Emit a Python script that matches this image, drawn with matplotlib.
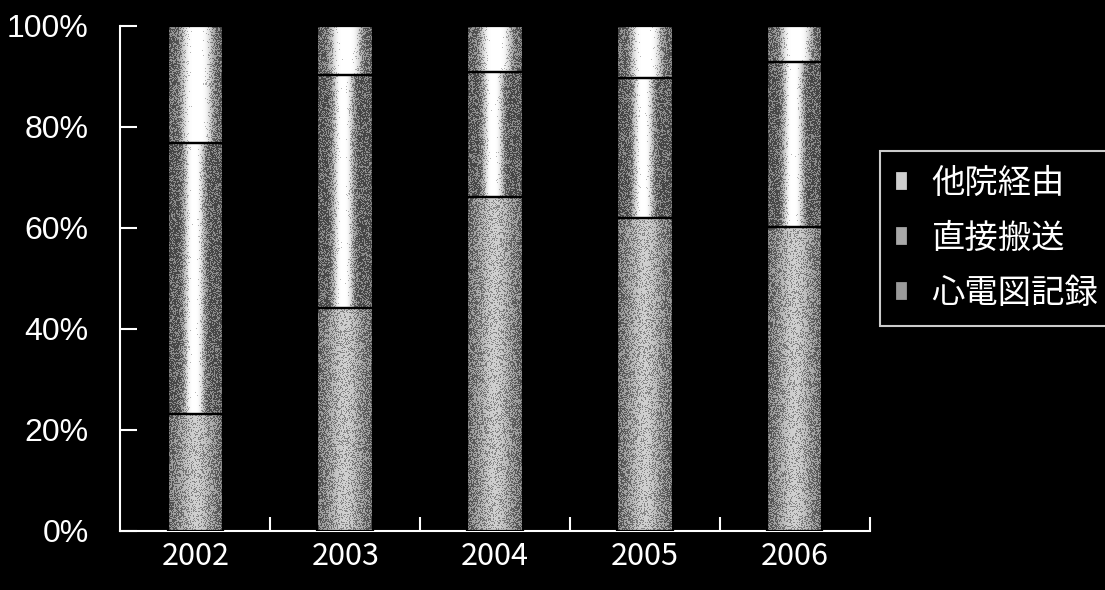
import numpy as np
import matplotlib
matplotlib.use("Agg")
import matplotlib.pyplot as plt

plt.rcParams['font.family'] = ['Noto Sans CJK JP', 'DejaVu Sans']

# Share of cases per year (%), stacked bottom to top
years = ["2002", "2003", "2004", "2005", "2006"]
ecg_record = [23.2, 44.1, 66.2, 61.9, 60.2]      # 心電図記録
direct_transport = [53.6, 46.2, 24.7, 27.7, 32.7]  # 直接搬送
via_other = [23.2, 9.7, 9.1, 10.4, 7.1]           # 他院経由
series_names = ["心電図記録", "直接搬送", "他院経由"]
y_ticks = [0, 20, 40, 60, 80, 100]

# shading across each bar: (edge brightness, peak brightness, centre, spread, power)
shading = [
    (0.40, 0.74, 0.50, 0.32, 2),
    (0.38, 1.00, 0.47, 0.18, 3),
    (0.42, 1.00, 0.52, 0.27, 4),
]
legend_greys = ["#9a9a9a", "#a8a8a8", "#cfcfcf"]

rng = np.random.default_rng(7)

fig = plt.figure(figsize=(11.05, 5.9), dpi=100, facecolor="black")
ax = fig.add_axes([0.109, 0.1, 0.678, 0.856], facecolor="black")

x = np.arange(len(years))
width = 0.37
bottoms = np.zeros(len(years))
containers = []
for vals, grey in zip([ecg_record, direct_transport, via_other], legend_greys):
    bars = ax.bar(x, vals, width, bottom=bottoms, color=grey,
                  edgecolor="black", linewidth=1.6, zorder=3)
    containers.append(bars)
    bottoms = bottoms + np.array(vals)

leg = ax.legend(containers[::-1], series_names[::-1],
                loc="upper left", bbox_to_anchor=(880 / 1105, 1 - 151 / 590),
                bbox_transform=fig.transFigure, borderaxespad=0,
                fontsize=24, frameon=True, fancybox=False,
                facecolor="black", edgecolor="white", labelcolor="white",
                handlelength=0.4, handleheight=0.55, handletextpad=0.7,
                labelspacing=0.6, borderpad=0.45)
leg.get_frame().set_linewidth(1.5)
for h in leg.legend_handles:
    h.set_edgecolor("black")

# grainy cylinder shading painted under the bar outlines
for bars, (lo, hi, c, s, p) in zip(containers, shading):
    for patch in bars:
        bx, by = patch.get_x(), patch.get_y()
        bw, bh = patch.get_width(), patch.get_height()
        ncols = 56
        nrows = max(2, int(round(bh * 5.05)))
        u = (np.arange(ncols) + 0.5) / ncols
        prof = lo + (hi - lo) * np.exp(-np.abs((u - c) / s) ** p)
        prof = np.tile(prof, (nrows, 1))
        dots = (rng.random(prof.shape) < prof).astype(float)
        img = 0.28 * dots + 0.72 * prof
        ax.imshow(img, cmap="gray", vmin=0, vmax=1, aspect="auto",
                  interpolation="nearest", extent=(bx, bx + bw, by, by + bh),
                  zorder=2)
        patch.set_facecolor("none")

ax.set_xlim(-0.5, len(years) - 0.5)
ax.set_ylim(0, 100)
ax.set_xticks(x)
ax.set_xticklabels(years)
ax.set_xticks(np.arange(len(years)) + 0.5, minor=True)
ax.set_yticks(y_ticks)
ax.set_yticklabels([f"{v}%" for v in y_ticks], family="Liberation Sans", fontsize=23)

ax.tick_params(axis="x", which="major", length=0, pad=7, labelsize=22, labelcolor="white")
ax.tick_params(axis="x", which="minor", direction="in", length=10, width=1.5, color="white")
ax.tick_params(axis="y", direction="in", length=12, width=1.5, color="white",
               pad=23, labelcolor="white")

for side in ["top", "right"]:
    ax.spines[side].set_visible(False)
for side in ["left", "bottom"]:
    ax.spines[side].set_color("white")
    ax.spines[side].set_linewidth(1.5)

fig.savefig("out.png", dpi=100, facecolor="black")
